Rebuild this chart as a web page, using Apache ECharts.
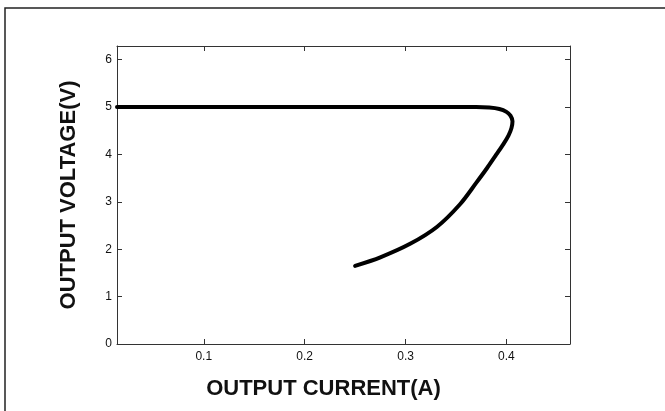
<!DOCTYPE html>
<html>
<head>
<meta charset="utf-8">
<script src="https://cdn.jsdelivr.net/npm/echarts@6/dist/echarts.min.js"></script>
<style>
html,body{margin:0;padding:0;background:#fff;}
#c{width:665px;height:411px;}
</style>
</head>
<body>
<div id="c"></div>
<script>
// Data
var currentA = [0.014, 0.1, 0.2, 0.3, 0.37, 0.383, 0.393, 0.400, 0.404, 0.406, 0.405, 0.402, 0.397, 0.390, 0.381, 0.370, 0.354, 0.331, 0.305, 0.275, 0.250];
var voltageV = [5.0, 5.0, 5.0, 5.0, 5.0, 4.99, 4.96, 4.90, 4.82, 4.70, 4.56, 4.40, 4.22, 4.00, 3.72, 3.40, 2.95, 2.47, 2.12, 1.83, 1.65];
var xTicks = [0.1, 0.2, 0.3, 0.4];
var yTicks = [0, 1, 2, 3, 4, 5, 6];
var xName = 'OUTPUT CURRENT(A)';
var yName = 'OUTPUT VOLTAGE(V)';

var pts = currentA.map(function (x, i) { return [x, voltageV[i]]; });
var chart = echarts.init(document.getElementById('c'), null, {renderer: 'canvas'});
var axisCol = '#333';
var fontFam = '"Liberation Sans", Arial, sans-serif';
function xa(pos, showLabel) {
  return {
    type: 'value', position: pos, min: 0.014, max: 0.463,
    axisLine: {show: true, onZero: false, lineStyle: {color: axisCol, width: 1}},
    axisTick: {show: true, inside: true, length: 5, customValues: xTicks, lineStyle: {color: axisCol}},
    axisLabel: {show: showLabel, customValues: xTicks, margin: 7, color: '#111', fontSize: 12, fontFamily: fontFam,
      formatter: function (v) { return v.toFixed(1); }},
    splitLine: {show: false},
    name: showLabel ? xName : '', nameLocation: 'middle', nameGap: 34,
    nameTextStyle: {fontSize: 22, fontWeight: 'bold', color: '#111', fontFamily: fontFam, padding: [0, 40, 0, 0]}
  };
}
function ya(pos, showLabel) {
  return {
    type: 'value', position: pos, min: 0, max: 6.29,
    axisLine: {show: true, onZero: false, lineStyle: {color: axisCol, width: 1}},
    axisTick: {show: true, inside: true, length: 5, customValues: yTicks, lineStyle: {color: axisCol}},
    axisLabel: {show: showLabel, customValues: yTicks, margin: 5, color: '#111', fontSize: 12, fontFamily: fontFam},
    splitLine: {show: false},
    name: showLabel ? yName : '', nameLocation: 'middle', nameGap: 37,
    nameTextStyle: {fontSize: 22, fontWeight: 'bold', color: '#111', fontFamily: fontFam, padding: [0, 0, 0, 0]}
  };
}
chart.setOption({
  animation: false,
  backgroundColor: '#fff',
  grid: {left: 117, right: 95, top: 46, bottom: 67},
  xAxis: [xa('bottom', true), xa('top', false)],
  yAxis: [ya('left', true), ya('right', false)],
  graphic: [
    {type: 'polyline', shape: {points: [[5, 411], [5, 8], [665, 8]]},
     style: {stroke: '#222', lineWidth: 1.5, fill: null}}
  ],
  series: [{
    type: 'line', xAxisIndex: 0, yAxisIndex: 0, data: pts,
    showSymbol: false, smooth: 0.3,
    lineStyle: {color: '#000', width: 4, cap: 'round'}
  }]
});
</script>
</body>
</html>
